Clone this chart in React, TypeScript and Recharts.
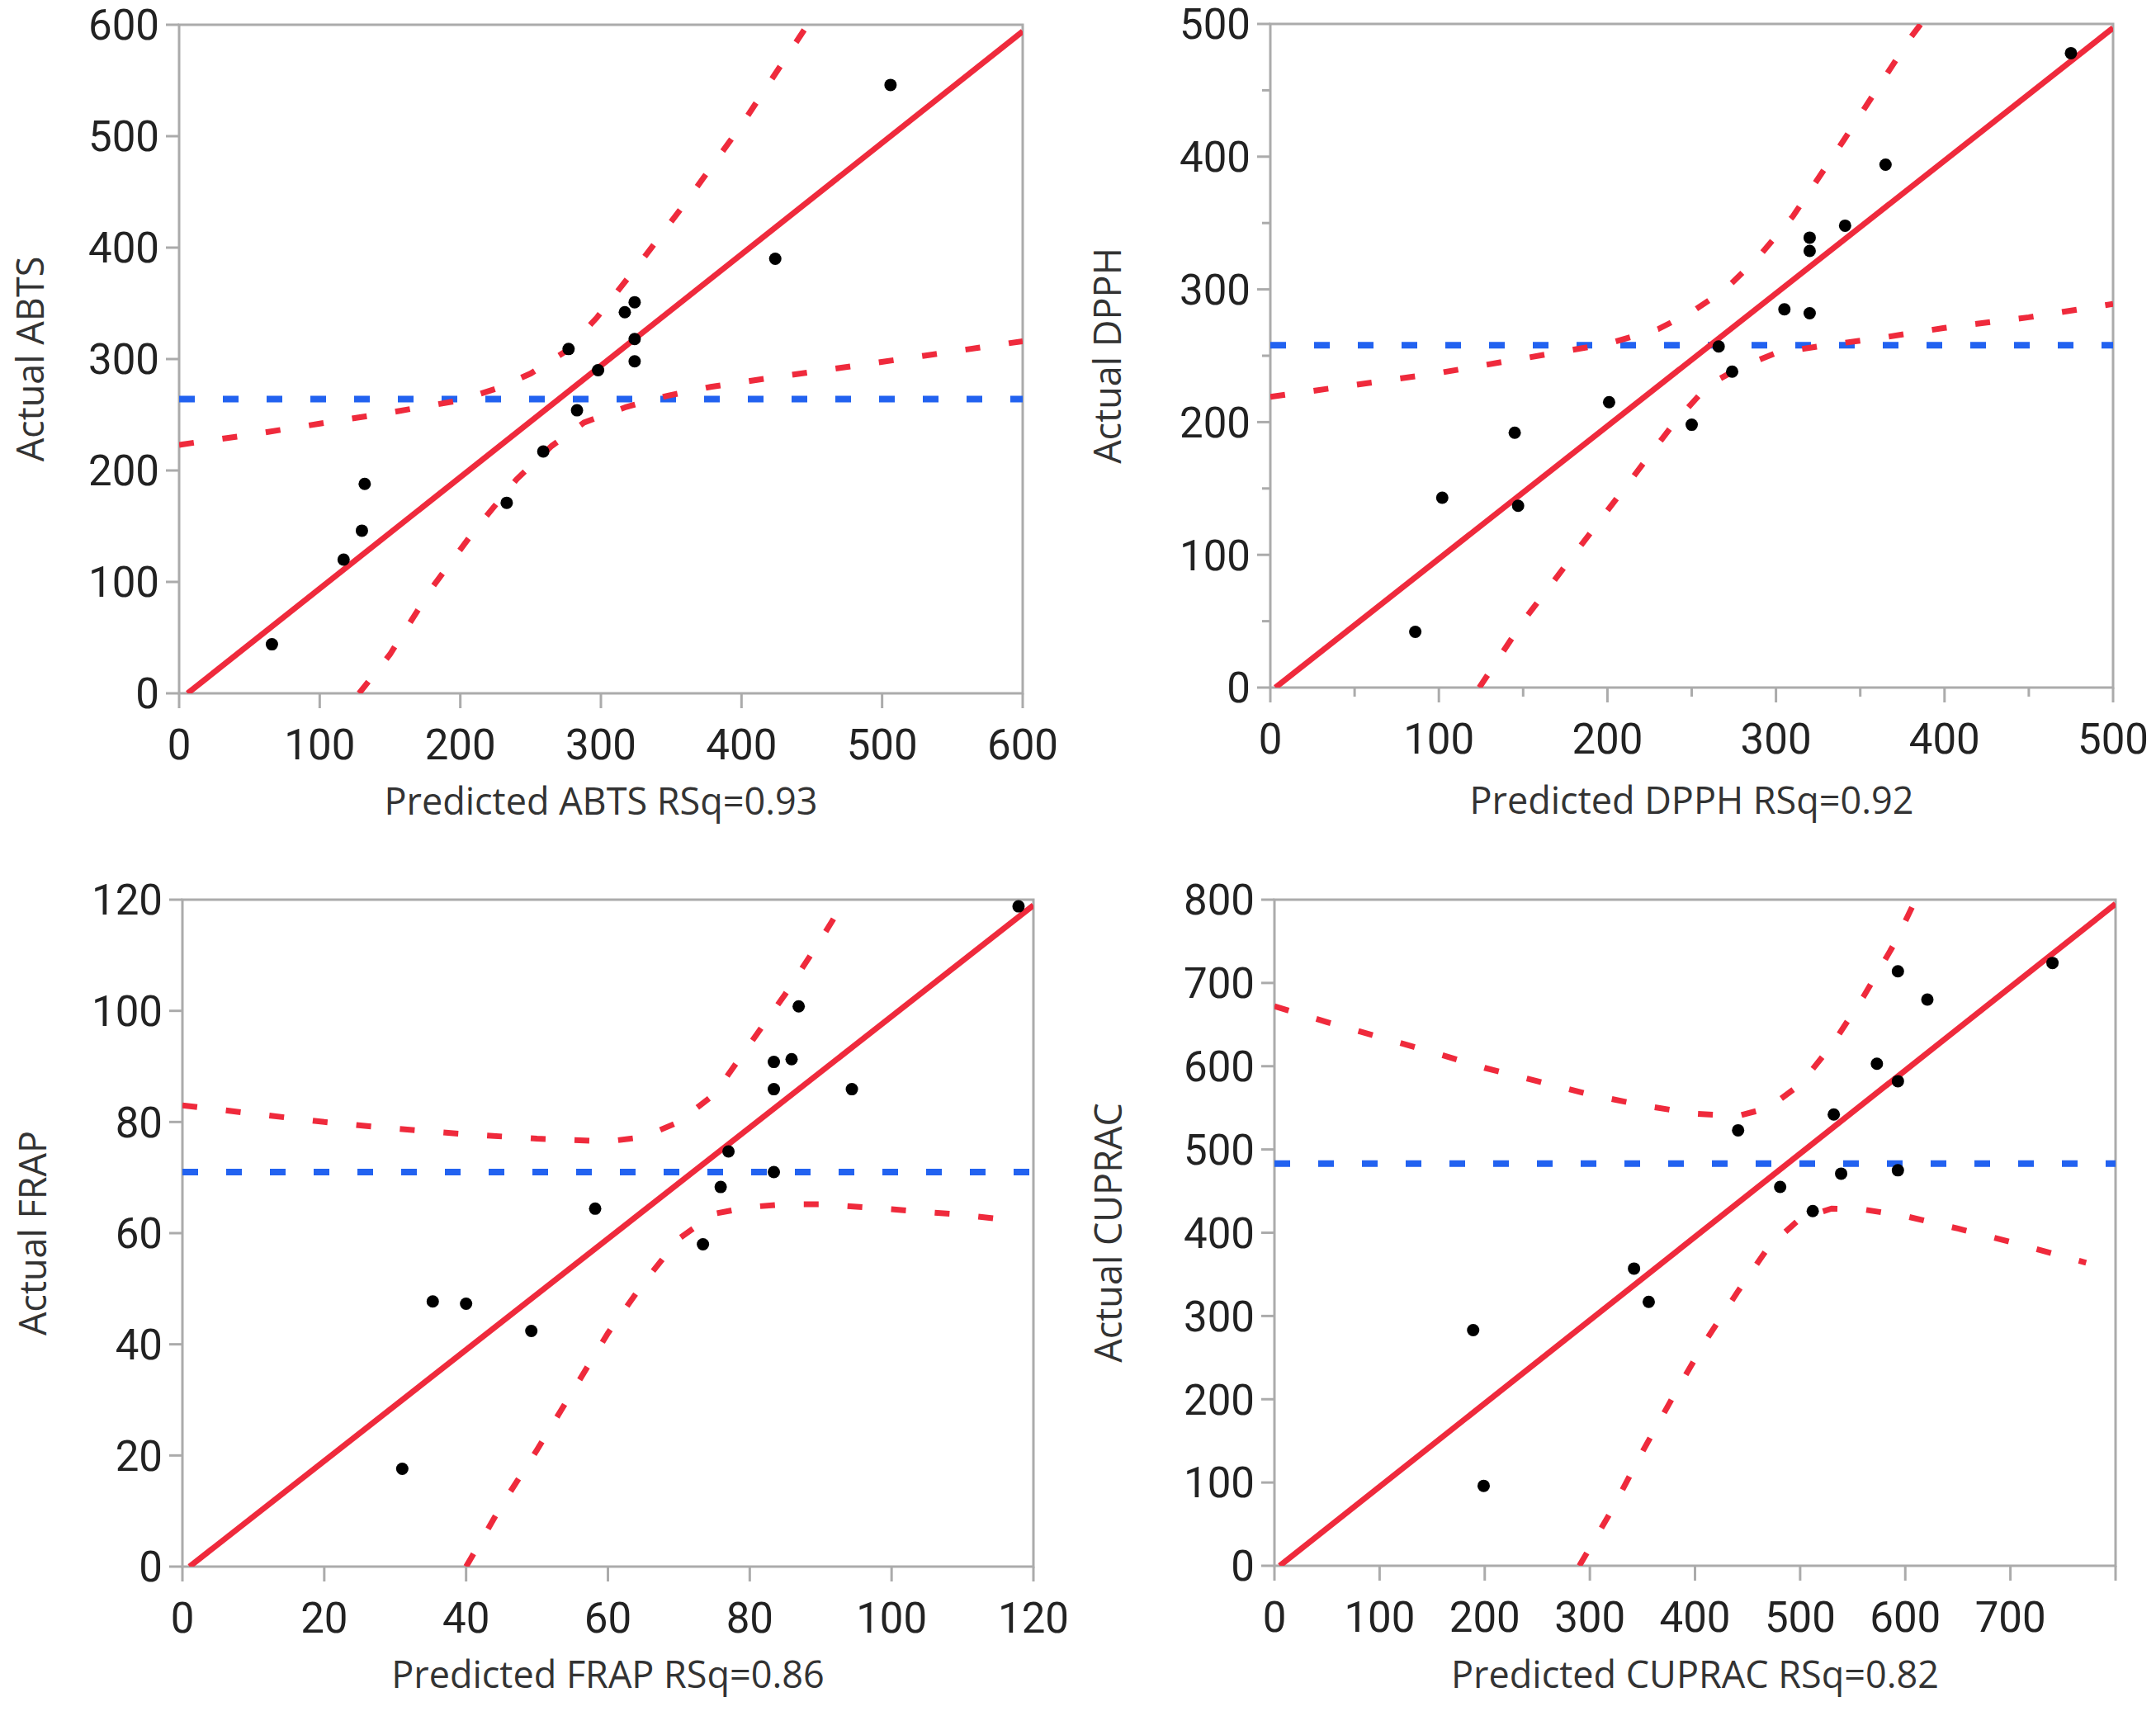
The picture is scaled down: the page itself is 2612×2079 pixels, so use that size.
import { ScatterChart, Scatter, XAxis, YAxis, ReferenceLine, ReferenceArea } from 'recharts';

const RED = '#EF2A3C';
const BLUE = '#2262F0';
const FRAME = '#ABABAB';
const FONT = '"Open Sans", "Noto Sans", sans-serif';
const TICK_FONT = 'Roboto, "Open Sans", sans-serif';

// ABTS
const abtsPredicted = [66, 117, 130, 132, 233, 259, 277, 283, 298, 317, 324, 324, 324, 424, 506];
const abtsActual = [44, 120, 146, 188, 171, 217, 309, 254, 290, 342, 351, 318, 298, 390, 546];
const abtsFit = [[6, 0], [600, 594]];
const abtsMean = 264;
const abtsUpper = [[0, 223], [50, 232], [100, 242], [150, 252], [200, 263], [227, 274], [250, 287], [275, 307], [297, 337], [330, 390], [360, 440], [400, 510], [447, 600]];
const abtsLower = [[128, 0], [150, 35], [180, 95], [210, 146], [240, 192], [265, 222], [288, 243], [318, 257], [347, 267], [378, 275], [420, 283], [470, 292], [530, 303], [600, 316]];
const abtsTicks = [0, 100, 200, 300, 400, 500, 600];

// DPPH
const dpphPredicted = [86, 102, 145, 147, 201, 250, 266, 274, 305, 320, 320, 320, 341, 365, 475];
const dpphActual = [42, 143, 192, 137, 215, 198, 257, 238, 285, 339, 329, 282, 348, 394, 478];
const dpphFit = [[3, 0], [500, 497]];
const dpphMean = 258;
const dpphUpper = [[0, 219], [50, 228], [100, 237], [150, 248], [200, 259], [230, 270], [250, 283], [270, 300], [290, 325], [310, 355], [340, 412], [380, 490], [386, 500]];
const dpphLower = [[124, 0], [150, 50], [180, 100], [210, 150], [240, 200], [260, 228], [280, 242], [300, 252], [330, 258], [360, 263], [400, 271], [450, 279], [500, 289]];
const dpphTicks = [0, 50, 100, 150, 200, 250, 300, 350, 400, 450, 500];

// FRAP
const frapPredicted = [31, 35.3, 40, 49.2, 58.2, 73.4, 75.9, 77, 83.4, 83.4, 83.4, 85.9, 86.9, 94.4, 117.9];
const frapActual = [17.6, 47.7, 47.3, 42.4, 64.4, 58, 68.3, 74.7, 90.8, 85.9, 71, 91.3, 100.8, 85.9, 118.8];
const frapFit = [[1, 0], [120, 119]];
const frapMean = 71;
const frapUpper = [[0, 83], [10, 81.5], [20, 80], [30, 78.8], [40, 77.8], [50, 77], [60, 76.5], [65, 77.3], [70, 80], [75, 85], [80, 94], [85, 103], [90, 112.8], [93, 119]];
const frapLower = [[40, 0], [45, 11], [50, 21], [55, 31.5], [60, 42], [65, 51], [70, 59], [75, 63.5], [80, 64.7], [85, 65.2], [90, 65.2], [100, 64.3], [110, 63.3], [117, 62.3]];
const frapTicks = [0, 20, 40, 60, 80, 100, 120];

// CUPRAC
const cupracPredicted = [189, 199, 342, 356, 441, 481, 512, 532, 539, 573, 593, 593, 593, 621, 740];
const cupracActual = [283, 96, 357, 317, 523, 455, 426, 542, 471, 603, 582, 475, 714, 680, 724];
const cupracFit = [[5, 0], [800, 795]];
const cupracMean = 483;
const cupracUpper = [[0, 672], [50, 653], [100, 635], [150, 617], [200, 598], [250, 582], [300, 566], [350, 553], [400, 543], [440, 540], [470, 550], [500, 578], [530, 625], [560, 683], [590, 748], [608, 795]];
const cupracLower = [[290, 0], [320, 65], [350, 137], [380, 205], [410, 270], [440, 328], [470, 383], [500, 417], [530, 429], [560, 428], [600, 420], [650, 405], [700, 389], [772, 364]];
const cupracTicks = [0, 100, 200, 300, 400, 500, 600, 700, 800];

const toXY = (pairs: number[][]) => pairs.map(([x, y]) => ({ x, y }));

function XTick({ x, y, payload, major, hide }: any) {
  const v = payload.value;
  const isMajor = v % major === 0;
  return (
    <g>
      <line x1={x} x2={x} y1={y} y2={y + (isMajor ? 18 : 11)} stroke={FRAME} strokeWidth={3} />
      {isMajor && v !== hide && (
        <text x={x} y={y + 44} dy="0.71em" textAnchor="middle" fontSize={51} fill="#222" fontFamily={TICK_FONT}>
          {v}
        </text>
      )}
    </g>
  );
}

function YTick({ x, y, payload, major }: any) {
  const v = payload.value;
  const isMajor = v % major === 0;
  return (
    <g>
      <line x1={x - (isMajor ? 16 : 10)} x2={x} y1={y} y2={y} stroke={FRAME} strokeWidth={3} />
      {isMajor && (
        <text x={x - 24} y={y} dy="0.36em" textAnchor="end" fontSize={51} fill="#222" fontFamily={TICK_FONT}>
          {v}
        </text>
      )}
    </g>
  );
}

function Panel(p: any) {
  const points = p.predicted.map((v: number, i: number) => ({ x: v, y: p.actual[i] }));
  const ticks = p.ticks;
  const dom = [ticks[0], ticks[ticks.length - 1]];
  return (
    <div style={{ position: 'absolute', left: p.left, top: p.top }}>
      <ScatterChart width={p.width} height={p.height} margin={p.margin}>
        <XAxis
          type="number"
          dataKey="x"
          domain={dom}
          ticks={ticks}
          interval={0}
          allowDataOverflow
          tickSize={0}
          tickMargin={0}
          tickLine={false}
          axisLine={false}
          height={p.xHeight}
          tick={(t: any) => <XTick {...t} major={p.major} hide={p.hideX} />}
          label={{ value: p.xLabel, position: 'insideBottom', offset: p.xLabelOffset, fontSize: 45, fill: '#333', fontFamily: FONT }}
        />
        <YAxis
          type="number"
          dataKey="y"
          domain={dom}
          ticks={ticks}
          interval={0}
          allowDataOverflow
          tickSize={0}
          tickMargin={0}
          tickLine={false}
          axisLine={false}
          width={p.yWidth}
          tick={(t: any) => <YTick {...t} major={p.major} />}
          label={{ value: p.yLabel, angle: -90, position: 'insideLeft', offset: p.yLabelOffset, fontSize: 45, fill: '#333', fontFamily: FONT, style: { textAnchor: 'middle' } }}
        />
        <ReferenceLine y={p.mean} stroke={BLUE} strokeWidth={8} strokeDasharray="19 34" />
        <Scatter data={toXY(p.upper)} line={{ stroke: RED, strokeWidth: 7, strokeDasharray: '18 35' }} shape={() => <g />} isAnimationActive={false} />
        <Scatter data={toXY(p.lower)} line={{ stroke: RED, strokeWidth: 7, strokeDasharray: '18 35' }} shape={() => <g />} isAnimationActive={false} />
        <Scatter data={toXY(p.fit)} line={{ stroke: RED, strokeWidth: 7 }} shape={() => <g />} isAnimationActive={false} />
        <Scatter data={points} shape={(s: any) => <circle cx={s.cx} cy={s.cy} r={7.5} fill="#000" />} isAnimationActive={false} />
        <ReferenceArea x1={dom[0]} x2={dom[1]} y1={dom[0]} y2={dom[1]} fill="none" stroke={FRAME} strokeWidth={3} />
      </ScatterChart>
    </div>
  );
}

export default function App() {
  return (
    <div style={{ position: 'absolute', left: 0, top: 0, width: 2612, height: 2079, background: '#fff' }}>
      <Panel
        left={0} top={0} width={1300} height={1040}
        margin={{ top: 30, right: 61, left: 0, bottom: 0 }}
        yWidth={217} xHeight={200} xLabelOffset={53} yLabelOffset={37}
        ticks={abtsTicks} major={100}
        xLabel="Predicted ABTS RSq=0.93" yLabel="Actual ABTS"
        predicted={abtsPredicted} actual={abtsActual} fit={abtsFit} mean={abtsMean}
        upper={abtsUpper} lower={abtsLower}
      />
      <Panel
        left={1300} top={0} width={1312} height={1040}
        margin={{ top: 29, right: 52, left: 0, bottom: 0 }}
        yWidth={239} xHeight={207} xLabelOffset={54} yLabelOffset={42}
        ticks={dpphTicks} major={100}
        xLabel="Predicted DPPH RSq=0.92" yLabel="Actual DPPH"
        predicted={dpphPredicted} actual={dpphActual} fit={dpphFit} mean={dpphMean}
        upper={dpphUpper} lower={dpphLower}
      />
      <Panel
        left={0} top={1040} width={1300} height={1039}
        margin={{ top: 50, right: 48, left: 0, bottom: 0 }}
        yWidth={221} xHeight={181} xLabelOffset={34} yLabelOffset={40}
        ticks={frapTicks} major={20}
        xLabel="Predicted FRAP RSq=0.86" yLabel="Actual FRAP"
        predicted={frapPredicted} actual={frapActual} fit={frapFit} mean={frapMean}
        upper={frapUpper} lower={frapLower}
      />
      <Panel
        left={1300} top={1040} width={1312} height={1039}
        margin={{ top: 50, right: 49, left: 0, bottom: 0 }}
        yWidth={244} xHeight={182} xLabelOffset={34} yLabelOffset={43}
        ticks={cupracTicks} major={100} hideX={800}
        xLabel="Predicted CUPRAC RSq=0.82" yLabel="Actual CUPRAC"
        predicted={cupracPredicted} actual={cupracActual} fit={cupracFit} mean={cupracMean}
        upper={cupracUpper} lower={cupracLower}
      />
    </div>
  );
}
